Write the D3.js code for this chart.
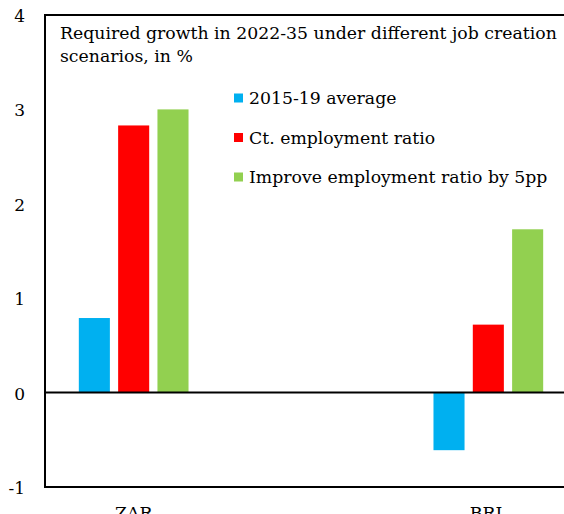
<!DOCTYPE html>
<html>
<head>
<meta charset="utf-8">
<script src="https://cdn.jsdelivr.net/npm/d3@7/dist/d3.min.js"></script>
<style>
  html, body { margin: 0; padding: 0; background: #fff; overflow: hidden; }
  svg { display: block; }
  text { font-family: "DejaVu Serif", Georgia, serif; fill: #000; }
</style>
</head>
<body>
<svg id="chart" width="564" height="514"></svg>
<script>
// Categories (the middle slot is an empty spacer column)
const categories = ["ZAR", "", "BRL"];
const series = ["2015-19 average", "Ct. employment ratio", "Improve employment ratio by 5pp"];
const seriesColors = ["#00B0F0", "#FF0000", "#92D050"];
const avg2015_19 = [0.79, null, -0.61];
const ctEmploymentRatio = [2.83, null, 0.72];
const improveBy5pp = [3.00, null, 1.73];
const yTicks = [-1, 0, 1, 2, 3, 4];
const titleLines = ["Required growth in 2022-35 under different job creation", "scenarios, in %"];

const valuesBySeries = [avg2015_19, ctEmploymentRatio, improveBy5pp];

const svg = d3.select("#chart");
const plot = { left: 45, top: 15, right: 577, bottom: 487 };

const y = d3.scaleLinear().domain([-1, 4]).range([plot.bottom, plot.top]);
const x0 = d3.scaleBand().domain(categories).range([plot.left, plot.right]);
const x1 = d3.scaleBand().domain(series).range([0, x0.bandwidth()])
  .paddingInner(0.21).paddingOuter(0.86);

// Bars
const rows = [];
categories.forEach((c, ci) => {
  series.forEach((s, si) => {
    const v = valuesBySeries[si][ci];
    if (v !== null) rows.push({ c, s, v, color: seriesColors[si] });
  });
});

svg.append("g").selectAll("rect").data(rows).join("rect")
  .attr("x", d => x0(d.c) + x1(d.s))
  .attr("width", x1.bandwidth())
  .attr("y", d => y(Math.max(0, d.v)))
  .attr("height", d => Math.abs(y(d.v) - y(0)))
  .attr("fill", d => d.color);

// Plot frame
svg.append("rect")
  .attr("x", plot.left).attr("y", plot.top)
  .attr("width", plot.right - plot.left).attr("height", plot.bottom - plot.top)
  .attr("fill", "none").attr("stroke", "#000").attr("stroke-width", 2);

// Zero line
svg.append("line")
  .attr("x1", plot.left).attr("x2", plot.right)
  .attr("y1", y(0)).attr("y2", y(0))
  .attr("stroke", "#000").attr("stroke-width", 2);

// Y axis labels (plain hyphen for negatives)
const yAxis = d3.axisLeft(y).tickValues(yTicks).tickSize(0).tickPadding(20)
  .tickFormat(d => String(d));
const gy = svg.append("g").attr("transform", `translate(${plot.left},0)`).call(yAxis);
gy.select(".domain").remove();
gy.selectAll("text").attr("font-family", "DejaVu Serif").attr("font-size", 17)
  .attr("fill", "#000").attr("dy", "0.38em");

// Category labels
const xAxis = d3.axisBottom(x0).tickSize(0).tickPadding(20);
const gx = svg.append("g").attr("transform", `translate(0,${plot.bottom})`).call(xAxis);
gx.select(".domain").remove();
gx.selectAll("text").attr("font-family", "DejaVu Serif").attr("font-size", 17.3)
  .attr("fill", "#000");

// Title inside plot
const title = svg.append("text").attr("font-size", 17.3);
titleLines.forEach((t, i) => {
  title.append("tspan").attr("x", 60).attr("y", 39 + i * 22.5).text(t);
});

// Legend
const legend = svg.append("g");
series.forEach((s, i) => {
  const cy = 98 + i * 39.5;
  legend.append("rect").attr("x", 234).attr("y", cy - 4.5)
    .attr("width", 9).attr("height", 9).attr("fill", seriesColors[i]);
  legend.append("text").attr("x", 249).attr("y", cy).attr("dy", "0.35em")
    .attr("font-size", 17.3).text(s);
});
</script>
</body>
</html>
